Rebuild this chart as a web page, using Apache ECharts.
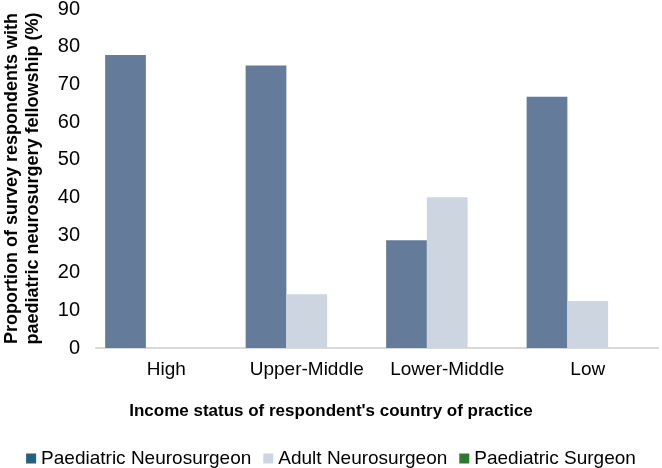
<!DOCTYPE html>
<html>
<head>
<meta charset="utf-8">
<script src="https://cdn.jsdelivr.net/npm/echarts@6/dist/echarts.min.js"></script>
<style>
  html, body { margin: 0; padding: 0; background: #fff; }
  #chart { width: 662px; height: 468px; }
</style>
</head>
<body>
<div id="chart"></div>
<script>
const categories = ['High', 'Upper-Middle', 'Lower-Middle', 'Low']
const paediatricNeuro = [77.8, 75, 28.6, 66.7]
const adultNeuro = [0, 14.3, 40, 12.5]
const paediatricSurgeon = [0, 0, 0, 0]

const font = "'Liberation Sans', Arial, sans-serif"
const chart = echarts.init(document.getElementById('chart'))

chart.setOption({
  animation: false,
  textStyle: { fontFamily: font },
  title: {
    text: "Income status of respondent's country of practice",
    left: 'center',
    top: 398,
    textStyle: { fontFamily: font, fontSize: 17, fontWeight: 'bold', color: '#000' },
  },
  legend: {
    left: 'center',
    top: 444,
    itemWidth: 10,
    itemHeight: 10,
    itemGap: 12,
    itemStyle: { borderWidth: 0 },
    textStyle: { fontFamily: font, fontSize: 19, color: '#000' },
    data: [
      { name: 'Paediatric Neurosurgeon', icon: 'rect', itemStyle: { color: '#23617f' } },
      { name: 'Adult Neurosurgeon', icon: 'rect', itemStyle: { color: '#cdd5e0' } },
      { name: 'Paediatric Surgeon', icon: 'rect', itemStyle: { color: '#2c7a2e' } },
    ],
  },
  grid: { left: 96, right: 4, top: 9, bottom: 120, containLabel: false, outerBoundsMode: 'none' },
  xAxis: {
    type: 'category',
    data: categories,
    axisLine: { lineStyle: { color: '#d9d9d9', width: 2 } },
    axisTick: { show: false },
    axisLabel: { color: '#000', fontSize: 19, fontFamily: font, margin: 12, interval: 0 },
  },
  yAxis: {
    type: 'value',
    min: 0,
    max: 90,
    interval: 10,
    name: 'Proportion of survey respondents with\npaediatric neurosurgery fellowship (%)',
    nameLocation: 'middle',
    nameRotate: 90,
    nameGap: 52,
    nameTextStyle: { fontFamily: font, fontSize: 18, fontWeight: 'bold', color: '#000', lineHeight: 21 },
    axisLine: { show: false },
    axisTick: { show: false },
    splitLine: { show: false },
    axisLabel: { color: '#000', fontSize: 20, fontFamily: font, margin: 16 },
  },
  series: [
    {
      name: 'Paediatric Neurosurgeon',
      type: 'bar',
      barGap: '0%',
      barCategoryGap: '13%',
      itemStyle: { color: '#647c9a' },
      data: paediatricNeuro,
    },
    {
      name: 'Adult Neurosurgeon',
      type: 'bar',
      itemStyle: { color: '#cdd5e0' },
      data: adultNeuro,
    },
    {
      name: 'Paediatric Surgeon',
      type: 'bar',
      itemStyle: { color: '#2c7a2e' },
      data: paediatricSurgeon,
    },
  ],
})
</script>
</body>
</html>
